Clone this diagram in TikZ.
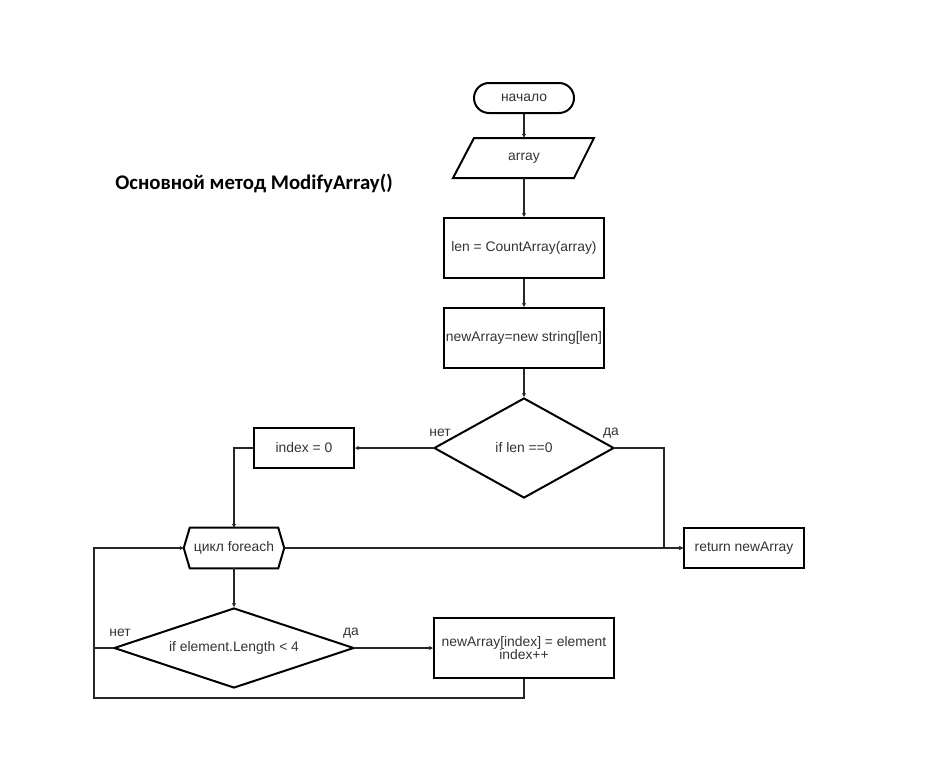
\documentclass[tikz,border=0pt]{standalone}
\usepackage{fontspec}
\setmainfont{Liberation Sans}
\newfontfamily\titlefont{Carlito}
\usetikzlibrary{shapes.geometric,arrows.meta}
\begin{document}
\begin{tikzpicture}[x=0.75pt,y=-0.75pt,
  every node/.style={font=\fontsize{10.4pt}{11.5pt}\selectfont, text=black!80},
  ln/.style={line width=1.4pt, draw=black!85},
  flow/.style={ln, -{Stealth[length=3pt,width=3pt]}},
  procbox/.style={draw, line width=1.5pt, rectangle, inner sep=0pt, align=center},
  startbox/.style={draw, line width=1.5pt, rectangle, rounded corners=11.25pt,
    minimum width=75pt, minimum height=22.5pt, inner sep=0pt},
  ghost/.style={rectangle, inner sep=0pt},
  decision/.style={draw, line width=1.5pt, diamond, inner sep=0pt, minimum width=#1},
  lbl/.style={inner sep=0pt}
]
\useasboundingbox (0,0) rectangle (950,760);

% title
\node[lbl, font=\titlefont\bfseries\fontsize{15.6pt}{17pt}\selectfont, text=black] (title) at (254,183) {Основной метод ModifyArray()};

% main column
\node[startbox] (start) at (524,98) {начало};
\node[ghost, minimum width=75pt, minimum height=30pt] (input) at (524,158) {array};
\draw[line width=1.5pt] ([shift={(-50,-20)}]input.center) -- ([shift={(70,-20)}]input.center)
  -- ([shift={(50,20)}]input.center) -- ([shift={(-71,20)}]input.center) -- cycle;
\node[procbox, minimum width=120pt, minimum height=45pt] (len) at (524,248) {len = CountArray(array)};
\node[procbox, minimum width=120pt, minimum height=45pt] (alloc) at (524,338) {newArray=new string[len]};
\node[decision=135pt, minimum height=75pt, aspect=1.8] (chk) at (524,448) {if len ==0};

\node[procbox, minimum width=75pt, minimum height=30pt] (init) at (304,448) {index = 0};
\node[procbox, minimum width=90pt, minimum height=30pt] (ret) at (744,548) {return newArray};

% loop header (hexagon)
\node[ghost, minimum width=75pt, minimum height=30pt] (loop) at (234,548) {цикл foreach};
\draw[line width=1.5pt] ([xshift=4.5pt]loop.north west) -- ([xshift=-4.5pt]loop.north east)
  -- (loop.east) -- ([xshift=-4.5pt]loop.south east) -- ([xshift=4.5pt]loop.south west)
  -- (loop.west) -- cycle;

\node[decision=180pt, minimum height=60pt, aspect=3] (cond) at (234,648) {if element.Length < 4};
\node[procbox, minimum width=135pt, minimum height=45pt] (store) at (524,648)
  {newArray[index] = element\\[-2pt]index++};

% branch labels
\node[lbl] (no1) at (440,433) {нет};
\node[lbl] (yes1) at (611,433) {да};
\node[lbl] (no2) at (120,633) {нет};
\node[lbl] (yes2) at (351,633) {да};

% connectors
\draw[flow] (start) -- (input);
\draw[flow] ([yshift=-15pt]input.center) -- (len);
\draw[flow] (len) -- (alloc);
\draw[flow] (alloc) -- (chk);
\draw[flow] (chk.west) -- (init.east);
\draw[flow] (chk.east) -| (664,548) -- (ret.west);
\draw[flow] (init.west) -| (loop.north);
\draw[flow] (loop.east) -- (ret.west);
\draw[flow] (loop.south) -- (cond.north);
\draw[flow] (cond.east) -- (store.west);
\draw[flow] (cond.west) -- (94,648) |- (loop.west);
\draw[ln] (store.south) |- (94,698) -- (94,648);
\end{tikzpicture}
\end{document}
